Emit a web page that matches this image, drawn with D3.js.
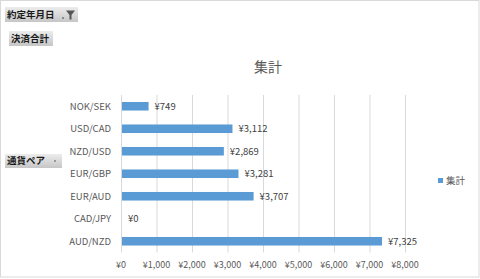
<!DOCTYPE html>
<html>
<head>
<meta charset="utf-8">
<script src="https://cdn.jsdelivr.net/npm/d3@7"></script>
<style>
  html, body { margin: 0; padding: 0; background: #fff; }
  svg { display: block; font-family: "Noto Sans CJK JP", "Noto Sans", sans-serif; }
</style>
</head>
<body>
<div id="chart"></div>
<script>
// data, top to bottom as drawn
var pairs  = ["NOK/SEK", "USD/CAD", "NZD/USD", "EUR/GBP", "EUR/AUD", "CAD/JPY", "AUD/NZD"];
var totals = [749, 3112, 2869, 3281, 3707, 0, 7325];
var ticks  = [0, 1000, 2000, 3000, 4000, 5000, 6000, 7000, 8000];
var title  = "集計";
var seriesName = "集計";
var fieldButtons = [
  {text: "約定年月日", x: 5, y: 7, w: 73, h: 15, icon: true},
  {text: "決済合計",   x: 9, y: 31, w: 44, h: 15},
  {text: "通貨ペア",   x: 5, y: 154, w: 57, h: 14, arrow: true}
];

var W = 480, H = 279;
var svg = d3.select("#chart").append("svg").attr("width", W).attr("height", H);

var defs = svg.append("defs");
var grad = defs.append("linearGradient").attr("id", "btn").attr("x1", 0).attr("y1", 0).attr("x2", 0).attr("y2", 1);
grad.append("stop").attr("offset", "0%").attr("stop-color", "#ececec");
grad.append("stop").attr("offset", "100%").attr("stop-color", "#c6c6c6");

// chart frame
svg.append("rect").attr("x", 0.5).attr("y", 0.5).attr("width", 478.5).attr("height", 276.5)
   .attr("fill", "#fff").attr("stroke", "#d9d9d9");

var fmt = function(v){ return "¥" + d3.format(",")(v); };

var x = d3.scaleLinear().domain([0, 8000]).range([121, 405]);
var y = d3.scaleBand().domain(pairs).range([95, 252.5]).paddingInner(0.62).paddingOuter(0.31);

// gridlines
svg.append("g").selectAll("line").data(ticks).enter().append("line")
   .attr("x1", function(d){ return x(d) + 0.5; })
   .attr("x2", function(d){ return x(d) + 0.5; })
   .attr("y1", 95).attr("y2", 252.5)
   .attr("stroke", "#d9d9d9").attr("stroke-width", 1);

// x tick labels
svg.append("g").selectAll("text").data(ticks).enter().append("text")
   .attr("x", function(d){ return x(d); })
   .attr("y", 268)
   .attr("text-anchor", "middle")
   .attr("font-size", 9)
   .attr("fill", "#595959")
   .text(fmt);

// category labels
svg.append("g").selectAll("text").data(pairs).enter().append("text")
   .attr("x", 111)
   .attr("y", function(d){ return y(d) + y.bandwidth() / 2; })
   .attr("dy", "0.35em")
   .attr("text-anchor", "end")
   .attr("font-size", 9.5)
   .attr("fill", "#595959")
   .text(function(d){ return d; });

// bars
svg.append("g").selectAll("rect").data(pairs).enter().append("rect")
   .attr("x", x(0) + 1)
   .attr("y", function(d){ return y(d); })
   .attr("width", function(d, i){ return Math.max(0, x(totals[i]) - x(0)); })
   .attr("height", y.bandwidth())
   .attr("fill", "#5b9bd5");

// value labels
svg.append("g").selectAll("text").data(pairs).enter().append("text")
   .attr("x", function(d, i){ return x(totals[i]) + 7; })
   .attr("y", function(d){ return y(d) + y.bandwidth() / 2; })
   .attr("dy", "0.35em")
   .attr("font-size", 9.5)
   .attr("fill", "#404040")
   .text(function(d, i){ return fmt(totals[i]); });

// title
svg.append("text").attr("x", 268).attr("y", 72).attr("text-anchor", "middle")
   .attr("font-size", 14).attr("fill", "#595959").text(title);

// legend
svg.append("rect").attr("x", 438).attr("y", 178).attr("width", 5).attr("height", 5).attr("fill", "#5b9bd5");
svg.append("text").attr("x", 446).attr("y", 181).attr("dy", "0.35em")
   .attr("font-size", 9.5).attr("fill", "#595959").text(seriesName);

// pivot field buttons
var btn = svg.append("g").selectAll("g").data(fieldButtons).enter().append("g")
   .attr("transform", function(d){ return "translate(" + d.x + "," + d.y + ")"; });
btn.append("rect").attr("width", function(d){ return d.w; }).attr("height", function(d){ return d.h; })
   .attr("fill", "url(#btn)");
btn.append("text").attr("x", 2).attr("y", function(d){ return d.h / 2; }).attr("dy", "0.36em")
   .attr("font-size", 9.5).attr("font-weight", "bold").attr("fill", "#1a1a1a")
   .text(function(d){ return d.text; });
btn.filter(function(d){ return d.icon; }).each(function(d){
  var g = d3.select(this);
  g.append("circle").attr("cx", d.w - 15).attr("cy", d.h - 4).attr("r", 0.8).attr("fill", "#333");
  g.append("path").attr("d", "M" + (d.w - 12) + ",3.5 h9 l-3.5,4.5 v4.5 h-2 v-4.5 z").attr("fill", "#555");
});
btn.filter(function(d){ return d.arrow; }).append("circle")
   .attr("cx", function(d){ return d.w - 7; }).attr("cy", function(d){ return d.h / 2; })
   .attr("r", 0.8).attr("fill", "#444");
</script>
</body>
</html>
